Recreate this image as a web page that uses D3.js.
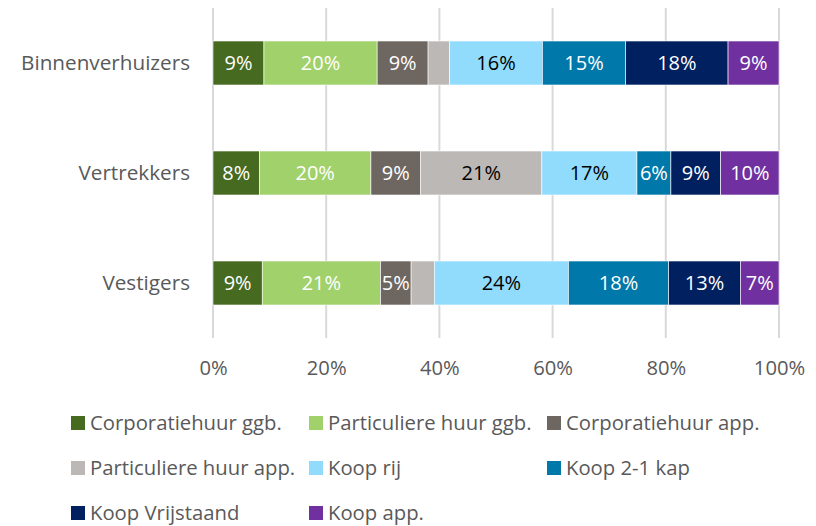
<!DOCTYPE html>
<html lang="nl">
<head>
<meta charset="utf-8">
<title>Woningtype verhuizers</title>
<style>
  body { margin: 0; background: #fff; }
  svg text { font-family: "Open Sans", sans-serif; }
  .grid line { stroke: #d9d9d9; stroke-width: 2px; }
</style>
</head>
<body>
<svg id="chart" width="816" height="526"></svg>
<script src="https://d3js.org/d3.v7.min.js"></script>
<script>
// groepen (y-as)
var categories = ["Binnenverhuizers", "Vertrekkers", "Vestigers"];

// woningtypes (reeksen)
var series = ["Corporatiehuur ggb.", "Particuliere huur ggb.", "Corporatiehuur app.",
              "Particuliere huur app.", "Koop rij", "Koop 2-1 kap", "Koop Vrijstaand", "Koop app."];

// aandelen in %, per groep, in volgorde van series
var binnenverhuizers = [9.0, 20.0, 9.0, 3.8, 16.4, 14.7, 18.1, 9.0];
var vertrekkers      = [8.2, 19.7, 8.8, 21.4, 16.8, 6.0, 8.8, 10.3];
var vestigers        = [8.7, 20.9, 5.4, 4.1, 23.7, 17.7, 12.7, 6.8];

var xTicks = [0, 20, 40, 60, 80, 100];

var colors = ["#466a1f", "#a0d16b", "#6e6660", "#bcb8b5", "#91dcfc", "#0078aa", "#002060", "#7030a0"];
var labelColors = ["#fff", "#fff", "#fff", "#000", "#000", "#fff", "#fff", "#fff"];

var rows = [binnenverhuizers, vertrekkers, vestigers];

var svg = d3.select("#chart");
var margin = {left: 213, right: 37, top: 8, bottom: 188};
var width = 816 - margin.left - margin.right,
    height = 526 - margin.top - margin.bottom;

var g = svg.append("g").attr("transform", "translate(" + margin.left + "," + margin.top + ")");

var x = d3.scaleLinear().domain([0, 100]).range([0, width]);
var y = d3.scaleBand().domain(categories).range([0, height]).paddingInner(0.6).paddingOuter(0.3);

// gridlines
g.append("g").attr("class", "grid")
  .selectAll("line").data(xTicks).enter().append("line")
  .attr("x1", function(d) { return x(d); })
  .attr("x2", function(d) { return x(d); })
  .attr("y1", 0).attr("y2", height);

// stack data
var table = categories.map(function(c, i) {
  var o = {cat: c};
  series.forEach(function(s, j) { o[s] = rows[i][j]; });
  return o;
});
var stacked = d3.stack().keys(series)(table);

var layer = g.selectAll(".layer").data(stacked).enter().append("g")
  .attr("class", "layer")
  .attr("fill", function(d, i) { return colors[i]; });

layer.selectAll("rect").data(function(d) { return d; }).enter().append("rect")
  .attr("x", function(d) { return x(d[0]); })
  .attr("width", function(d) { return x(d[1]) - x(d[0]); })
  .attr("y", function(d) { return y(d.data.cat); })
  .attr("height", y.bandwidth())
  .attr("stroke", "#fff").attr("stroke-width", 0.6);

layer.each(function(s, i) {
  d3.select(this).selectAll("text").data(s.filter(function(d) { return d[1] - d[0] >= 4.5; }))
    .enter().append("text")
    .attr("x", function(d) { return (x(d[0]) + x(d[1])) / 2; })
    .attr("y", function(d) { return y(d.data.cat) + y.bandwidth() / 2; })
    .attr("dy", "0.36em")
    .attr("text-anchor", "middle")
    .attr("font-size", 20)
    .attr("fill", labelColors[i])
    .text(function(d) { return Math.round(d[1] - d[0]) + "%"; });
});

// y labels
g.selectAll(".cat").data(categories).enter().append("text")
  .attr("class", "cat")
  .attr("x", -23)
  .attr("y", function(d) { return y(d) + y.bandwidth() / 2; })
  .attr("dy", "0.36em")
  .attr("text-anchor", "end")
  .attr("font-size", 20.7)
  .attr("fill", "#595959")
  .text(function(d) { return d; });

// x axis labels
var xAxis = g.append("g").attr("transform", "translate(0," + height + ")")
  .call(d3.axisBottom(x).tickValues(xTicks).tickSize(0).tickPadding(23)
    .tickFormat(function(d) { return d + "%"; }));
xAxis.select(".domain").remove();
xAxis.selectAll("text").attr("font-size", 20.2).attr("fill", "#595959")
  .style("font-family", "'Open Sans', sans-serif");

// legend
var legend = svg.append("g").attr("transform", "translate(71,0)");
var item = legend.selectAll(".item").data(series).enter().append("g")
  .attr("transform", function(d, i) {
    return "translate(" + (i % 3) * 238 + "," + (423 + Math.floor(i / 3) * 45) + ")";
  });
item.append("rect").attr("x", 0).attr("y", -7).attr("width", 14).attr("height", 14)
  .attr("fill", function(d, i) { return colors[i]; });
item.append("text").attr("x", 19).attr("dy", "0.36em")
  .attr("font-size", 20.3).attr("fill", "#595959")
  .text(function(d) { return d; });
</script>
</body>
</html>
